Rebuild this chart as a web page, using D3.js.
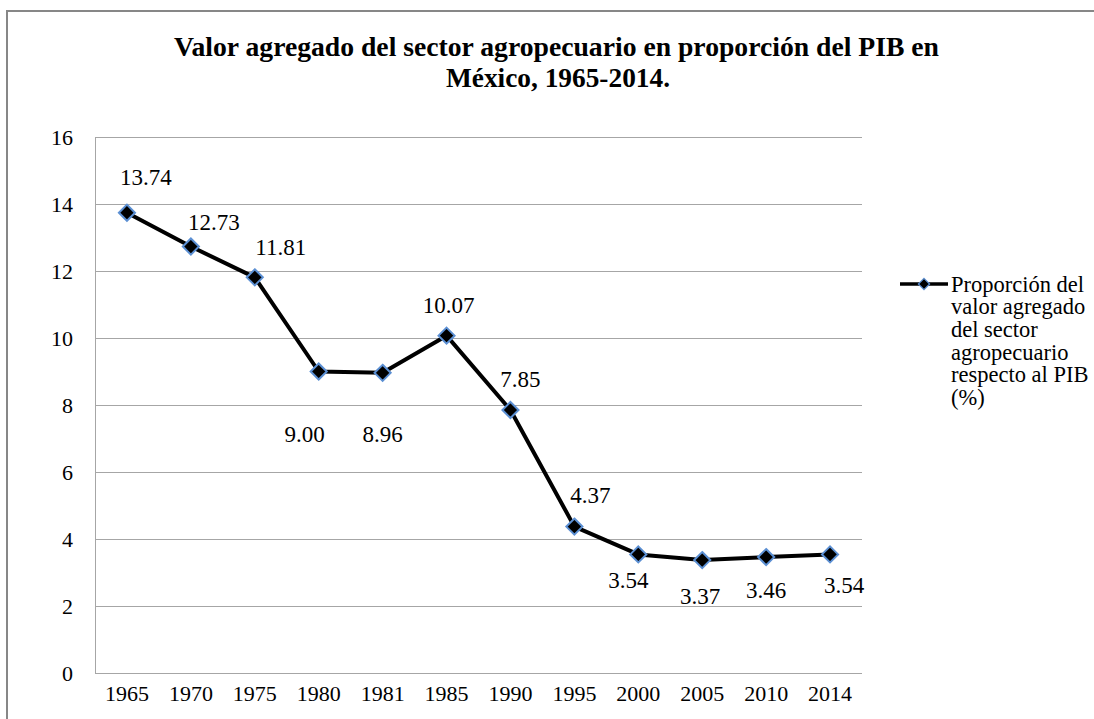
<!DOCTYPE html>
<html>
<head>
<meta charset="utf-8">
<script src="https://cdn.jsdelivr.net/npm/d3@7"></script>
<style>
  html, body { margin: 0; padding: 0; background: #fff; }
  svg { display: block; }
</style>
</head>
<body>
<svg id="chart" width="1094" height="719"></svg>
<script>
// ---- data ----
const categories = ["1965", "1970", "1975", "1980", "1981", "1985", "1990", "1995", "2000", "2005", "2010", "2014"];
const values = [13.74, 12.73, 11.81, 9.00, 8.96, 10.07, 7.85, 4.37, 3.54, 3.37, 3.46, 3.54];
const yTicks = [0, 2, 4, 6, 8, 10, 12, 14, 16];
const titleLines = ["Valor agregado del sector agropecuario en proporción del PIB en", "México, 1965-2014."];
const legendLines = ["Proporción del", "valor agregado", "del sector", "agropecuario", "respecto al PIB", "(%)"];

// label placement offsets (layout, px) relative to each point
const labelOffsets = [[19, -36], [23, -25], [26, -30], [-14, 62], [0, 61], [2, -31], [10, -31], [16, -32], [-10, 26], [-2, 36], [0, 33], [14, 31]];

(function () {
const FONT = "'Liberation Serif', 'Tinos', 'Times New Roman', serif";
const svg = d3.select("#chart").attr("font-family", FONT);
const pLeft = 95, pRight = 862, pTop = 137, pBottom = 673;

// outer chart border
svg.append("path")
  .attr("d", `M7,${719} L7,11 L1094,11`)
  .attr("fill", "none").attr("stroke", "#878787").attr("stroke-width", 2);

// title
const titleW = [765, 224], titleX = [174, 446], titleY = [56, 87];
titleLines.forEach((t, i) => {
  svg.append("text")
    .attr("x", titleX[i]).attr("y", titleY[i])
    .attr("font-family", FONT)
    .attr("font-size", 28).attr("font-weight", "bold")
    .attr("textLength", titleW[i]).attr("lengthAdjust", "spacingAndGlyphs")
    .attr("fill", "#000")
    .text(t);
});

const x = d3.scaleBand().domain(categories).range([pLeft, pRight]).padding(0);
const y = d3.scaleLinear().domain([0, 16]).range([pBottom, pTop]);
const cx = d => x(d) + x.bandwidth() / 2;

// gridlines
svg.append("g").selectAll("line").data(yTicks.filter(v => v > 0)).join("line")
  .attr("x1", pLeft).attr("x2", pRight)
  .attr("y1", d => y(d) + 0.5).attr("y2", d => y(d) + 0.5)
  .attr("stroke", "#a6a6a6").attr("stroke-width", 1);

// axes lines
svg.append("line").attr("x1", pLeft).attr("x2", pRight).attr("y1", pBottom + 0.5).attr("y2", pBottom + 0.5)
  .attr("stroke", "#a6a6a6").attr("stroke-width", 1);
svg.append("line").attr("x1", pLeft + 0.5).attr("x2", pLeft + 0.5).attr("y1", pTop).attr("y2", pBottom)
  .attr("stroke", "#a6a6a6").attr("stroke-width", 1);

// y tick labels
svg.append("g").selectAll("text").data(yTicks).join("text")
  .attr("x", 73).attr("y", d => y(d)).attr("dy", "0.35em")
  .attr("font-family", FONT)
  .attr("text-anchor", "end").attr("font-size", 22)
  .text(d => d);

// x tick labels
svg.append("g").selectAll("text").data(categories).join("text")
  .attr("x", d => cx(d)).attr("y", 701)
  .attr("font-family", FONT)
  .attr("text-anchor", "middle").attr("font-size", 22)
  .text(d => d);

// line
const pts = categories.map((c, i) => [cx(c), y(values[i])]);
svg.append("path")
  .attr("d", d3.line()(pts))
  .attr("fill", "none").attr("stroke", "#000").attr("stroke-width", 4)
  .attr("stroke-linejoin", "round");

// markers
const diamond = d3.symbol().type(d3.symbolDiamond2).size(165);
svg.append("g").selectAll("path").data(pts).join("path")
  .attr("transform", d => `translate(${d[0]},${d[1]})`)
  .attr("d", diamond)
  .attr("fill", "#000").attr("stroke", "#5b8fd3").attr("stroke-width", 2);

// data labels
svg.append("g").selectAll("text").data(values).join("text")
  .attr("x", (d, i) => pts[i][0] + labelOffsets[i][0])
  .attr("y", (d, i) => pts[i][1] + labelOffsets[i][1])
  .attr("dy", "0.35em")
  .attr("font-family", FONT)
  .attr("text-anchor", "middle").attr("font-size", 23)
  .text(d => d3.format(".2f")(d));

// legend
const lg = svg.append("g");
lg.append("line").attr("x1", 900).attr("x2", 948).attr("y1", 284).attr("y2", 284)
  .attr("stroke", "#000").attr("stroke-width", 3.5);
lg.append("path").attr("transform", "translate(924,284)")
  .attr("d", d3.symbol().type(d3.symbolDiamond2).size(80))
  .attr("fill", "#000").attr("stroke", "#5b8fd3").attr("stroke-width", 1.2);
lg.selectAll("text").data(legendLines).join("text")
  .attr("x", 951).attr("y", (d, i) => 284 + i * 22.6).attr("dy", "0.35em")
  .attr("font-family", FONT)
  .attr("font-size", 22.5)
  .text(d => d);
})();
</script>
</body>
</html>
